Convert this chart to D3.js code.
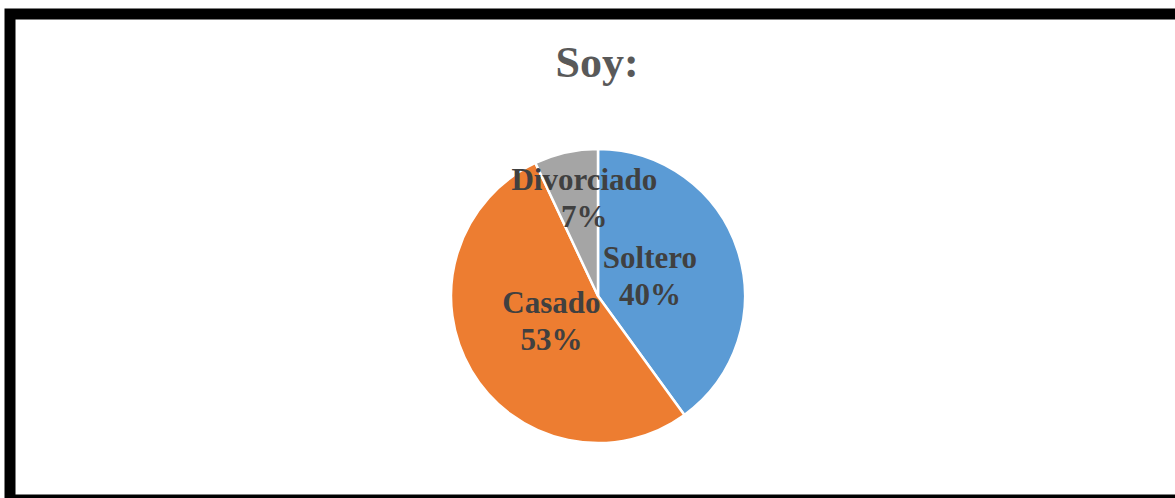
<!DOCTYPE html>
<html>
<head>
<meta charset="utf-8">
<script src="https://cdn.jsdelivr.net/npm/d3@7"></script>
<style>
  html, body { margin: 0; padding: 0; background: #fff; }
  svg { display: block; }
</style>
</head>
<body>
<script>
// Marital status breakdown
const categories = ["Soltero", "Casado", "Divorciado"];
const values = [40, 53, 7];
const colors = ["#5B9BD5", "#ED7D31", "#A5A5A5"];
const title = "Soy:";

const W = 1175, H = 498;
const svg = d3.select("body").append("svg").attr("width", W).attr("height", H);

svg.append("rect").attr("width", W).attr("height", H).attr("fill", "#fff");

// Frame around the chart area
svg.append("rect")
  .attr("x", 10).attr("y", 14)
  .attr("width", W + 20).attr("height", 486)
  .attr("fill", "none")
  .attr("stroke", "#000")
  .attr("stroke-width", 11);

svg.append("text")
  .attr("x", 597).attr("y", 77)
  .attr("text-anchor", "middle")
  .attr("font-family", "'Liberation Serif', 'Times New Roman', serif")
  .attr("font-weight", "bold")
  .attr("font-size", 44)
  .attr("fill", "#595959")
  .text(title);

const cx = 598, cy = 296, r = 147;
const data = categories.map((c, i) => ({ name: c, value: values[i], color: colors[i] }));
const pie = d3.pie().value(d => d.value).sort(null);
const arcs = pie(data);
const arc = d3.arc().innerRadius(0).outerRadius(r);

const g = svg.append("g").attr("transform", `translate(${cx},${cy})`);
g.selectAll("path").data(arcs).enter().append("path")
  .attr("d", arc)
  .attr("fill", d => d.data.color)
  .attr("stroke", "#fff")
  .attr("stroke-width", 2.5)
  .attr("stroke-linejoin", "round");

// Label anchor points, offset from each slice's centroid
const labelArc = d3.arc().innerRadius(r * 0.55).outerRadius(r * 0.55);
const nudges = [[-25, -3], [23, -24], [4, -27]];
const lab = g.selectAll("text.lab").data(arcs).enter().append("text")
  .attr("class", "lab")
  .attr("text-anchor", "middle")
  .attr("font-family", "'Liberation Serif', 'Times New Roman', serif")
  .attr("font-weight", "bold")
  .attr("font-size", 31)
  .attr("fill", "#404040")
  .attr("transform", (d, i) => {
    const c = labelArc.centroid(d);
    return `translate(${c[0] + nudges[i][0]},${c[1] + nudges[i][1]})`;
  });
lab.append("tspan").attr("x", 0).attr("y", 0).text(d => d.data.name);
lab.append("tspan").attr("x", 0).attr("y", 37).text(d => d.data.value + "%");
</script>
</body>
</html>
